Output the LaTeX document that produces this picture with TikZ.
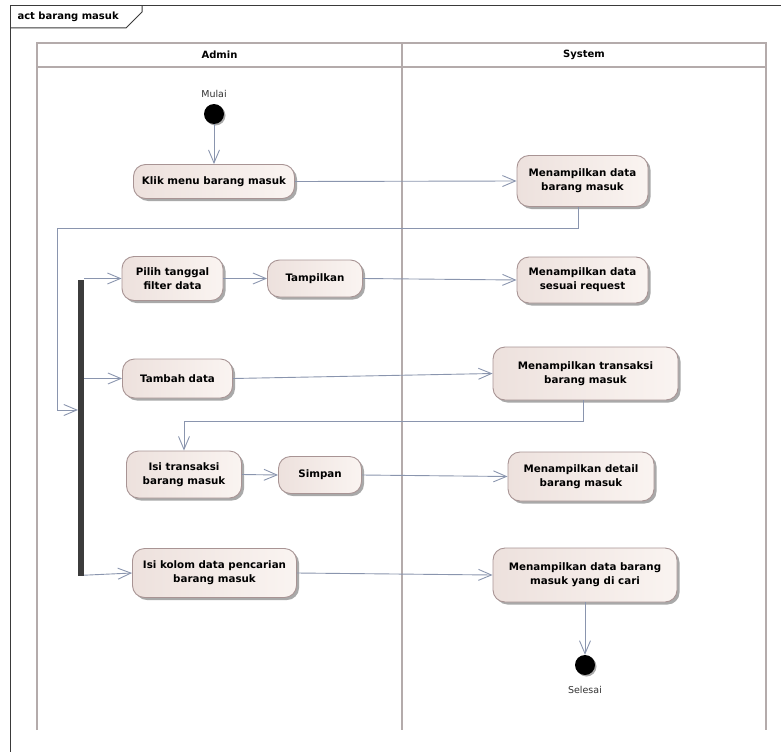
\documentclass[tikz,border=0pt]{standalone}
\usepackage{fontspec}
\setmainfont{DejaVu Sans}
\usetikzlibrary{arrows.meta,shadows}
\definecolor{framecol}{HTML}{3A3A3A}
\definecolor{lanecol}{HTML}{B4ABAB}
\definecolor{flowcol}{HTML}{8A95AE}
\definecolor{actborder}{HTML}{A89494}
\definecolor{actleft}{HTML}{EDE1DD}
\definecolor{actright}{HTML}{FAF4F1}
\definecolor{barcol}{HTML}{3C3C3C}
\definecolor{labelcol}{HTML}{333333}
\tikzset{
  actfont/.style={font=\fontsize{10.3}{14}\selectfont\bfseries},
  act/.style={actfont, rounded corners=12pt, draw=actborder, line width=0.9pt,
    left color=actleft, right color=actright, align=center, inner sep=2pt,
    drop shadow={shadow xshift=2.5pt, shadow yshift=-2.5pt, fill=black!45, opacity=0.75}},
  startend/.style={circle, fill=black, minimum size=20pt, inner sep=0pt,
    drop shadow={shadow xshift=1.5pt, shadow yshift=-1.5pt, fill=black!45, opacity=0.75}},
  flow/.style={draw=flowcol, line width=0.9pt,
    -{Straight Barb[length=13pt, width=11pt, line width=0.9pt]}},
  lane/.style={draw=lanecol, line width=1.6pt},
  framel/.style={draw=framecol, line width=1pt},
  tagtext/.style={font=\fontsize{9.5}{11}\selectfont, text=labelcol},
  headtext/.style={font=\fontsize{10}{12}\selectfont\bfseries}
}
\begin{document}
\begin{tikzpicture}[x=1pt, y=-1pt]
\useasboundingbox (0,0) rectangle (781,752);

% diagram frame and its name tab
\draw[framel] (781,6) -- (10,6) -- (10,752);
\draw[framel] (10,28) -- (126,28) -- (142,12) -- (142,6);
\node[headtext, anchor=west] (title) at (14,17) {act barang masuk};

% swimlanes, open at the bottom
\draw[lane] (37,730) -- (37,43) -- (766,43) -- (766,730);
\draw[lane] (37,67) -- (766,67);
\draw[lane] (402,43) -- (402,730);
\node[headtext] (hadmin) at (219.5,55) {Admin};
\node[headtext] (hsystem) at (584,55) {System};

% start and end
\node[startend] (start) at (214,114) {};
\node[tagtext] (mulai) at (214,94) {Mulai};
\node[startend] (final) at (585,665) {};
\node[tagtext] (selesai) at (585,690) {Selesai};

% fork bar
\node[fill=barcol, minimum width=6pt, minimum height=296pt, inner sep=0pt] (fork) at (81,428) {};

% actions
\node[act, minimum width=161pt, minimum height=34pt] (klik) at (214,181.5) {Klik menu barang masuk};
\node[act, minimum width=131pt, minimum height=51pt] (m1) at (582.5,181) {Menampilkan data\\barang masuk};
\node[act, minimum width=101pt, minimum height=44pt] (pilih) at (172.5,278.5) {Pilih tanggal\\filter data};
\node[act, minimum width=95pt, minimum height=37pt] (tamp) at (315,278.5) {Tampilkan};
\node[act, minimum width=131pt, minimum height=46pt] (m2) at (582.5,280) {Menampilkan data\\sesuai request};
\node[act, minimum width=110pt, minimum height=39pt] (tambah) at (177.5,378.5) {Tambah data};
\node[act, minimum width=185pt, minimum height=53pt] (m3) at (585.5,373.5) {Menampilkan transaksi\\barang masuk};
\node[act, minimum width=115pt, minimum height=47pt] (isi) at (184,474.5) {Isi transaksi\\barang masuk};
\node[act, minimum width=83pt, minimum height=37pt] (simpan) at (320,475) {Simpan};
\node[act, minimum width=146pt, minimum height=49pt] (m4) at (581,476.5) {Menampilkan detail\\barang masuk};
\node[act, minimum width=164pt, minimum height=49pt] (kolom) at (214.5,573) {Isi kolom data pencarian\\barang masuk};
\node[act, minimum width=184pt, minimum height=54pt] (m5) at (585,575) {Menampilkan data barang\\masuk yang di cari};

% bends of the return flows
\coordinate (loopTurn) at (57,228);
\coordinate (forkIn) at (78,410);
\coordinate (isiTurn) at (184,421);

% flows
\draw[flow] (start) -- (klik);
\draw[flow] (klik.east) -- (m1.west);
\draw[flow] ([xshift=-4.5pt]m1.south) |- (loopTurn) |- (forkIn);
\draw[flow] (fork.east |- pilih.west) -- (pilih.west);
\draw[flow] (pilih.east) -- (tamp.west);
\draw[flow] (tamp.east) -- (m2.west);
\draw[flow] (fork.east |- tambah.west) -- (tambah.west);
\draw[flow] (tambah.east) -- (m3.west);
\draw[flow] ([xshift=-2.5pt]m3.south) |- (isiTurn) -- (isi.north);
\draw[flow] (isi.east) -- (simpan.west);
\draw[flow] (simpan.east) -- (m4.west);
\draw[flow] ([yshift=1pt]fork.south east) -- (kolom.west);
\draw[flow] (kolom.east) -- (m5.west);
\draw[flow] (m5.south) -- (final);
\end{tikzpicture}
\end{document}
